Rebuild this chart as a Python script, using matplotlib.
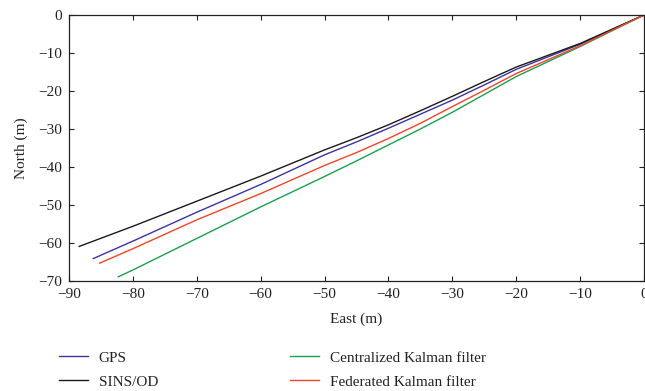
import numpy as np
import matplotlib.pyplot as plt

#軌跡データ (East, North) [m]
gpsEast = [0, -10, -20, -25, -30, -35, -40, -45, -50, -60, -70, -80, -86.2]
gpsNorth = [0, -7.7, -14.3, -18.4, -22.4, -26.1, -29.8, -33.4, -36.8, -44.6, -51.9, -59.5, -64.1]

sinsEast = [0, -10, -20, -25, -30, -35, -40, -45, -50, -60, -70, -80, -88.4]
sinsNorth = [0, -7.5, -13.7, -17.5, -21.4, -25.2, -28.9, -32.3, -35.5, -42.4, -49.0, -55.6, -60.9]

ckfEast = [0, -10, -20, -25, -30, -35, -40, -45, -50, -60, -70, -80, -82.3]
ckfNorth = [0, -8.3, -16.2, -20.9, -25.6, -30.0, -34.2, -38.4, -42.5, -50.5, -58.8, -67.1, -68.9]

fkfEast = [0, -10, -20, -25, -30, -35, -40, -45, -50, -60, -70, -80, -85.2]
fkfNorth = [0, -8.1, -15.4, -19.8, -24.1, -28.5, -32.5, -36.2, -39.6, -47.0, -53.9, -61.5, -65.3]

xTicks = [-90, -80, -70, -60, -50, -40, -30, -20, -10, 0]
yTicks = [0, -10, -20, -30, -40, -50, -60, -70]

def Main():
	plt.rcParams['font.family'] = ['Liberation Serif', 'DejaVu Serif']
	plt.rcParams['axes.unicode_minus'] = True
	fig = plt.figure(figsize=(6.45, 3.91), dpi=100)
	ax = fig.add_axes([69 / 645, 1 - 281 / 391, 575 / 645, 266 / 391])

	#Plot
	l1, = ax.plot(gpsEast, gpsNorth, color="#3b33a0", lw=1.0)
	l2, = ax.plot(sinsEast, sinsNorth, color="#1a1a1a", lw=1.0)
	l3, = ax.plot(ckfEast, ckfNorth, color="#1a9e50", lw=1.0)
	l4, = ax.plot(fkfEast, fkfNorth, color="#f0442a", lw=1.0)

	ax.set_xlim(-90, 0)
	ax.set_ylim(-70, 0)
	ax.set_xticks(xTicks)
	ax.set_yticks(yTicks)
	ax.tick_params(direction="in", top=True, right=True, length=3.5, width=0.8,
		labelsize=11, colors="#222222", pad=5)
	for s in ax.spines.values():
		s.set_linewidth(0.9)
		s.set_color("#222222")
	ax.set_xlabel("East (m)", fontsize=11, color="#222222", labelpad=8)
	ax.set_ylabel("North (m)", fontsize=11, color="#222222", labelpad=7)

	fig.legend([l1, l2, l3, l4],
		["GPS", "SINS/OD", "Centralized Kalman filter", "Federated Kalman filter"],
		ncol=2, loc="upper left", bbox_to_anchor=(59 / 645, 1 - 351 / 391),
		frameon=False, fontsize=11, handlelength=1.9, handletextpad=0.7,
		columnspacing=8.65, labelspacing=0.68, borderpad=0, borderaxespad=0,
		labelcolor="#222222")

	fig.savefig("out.png", dpi=100)
#End_Method

if __name__ == "__main__":
	Main()
